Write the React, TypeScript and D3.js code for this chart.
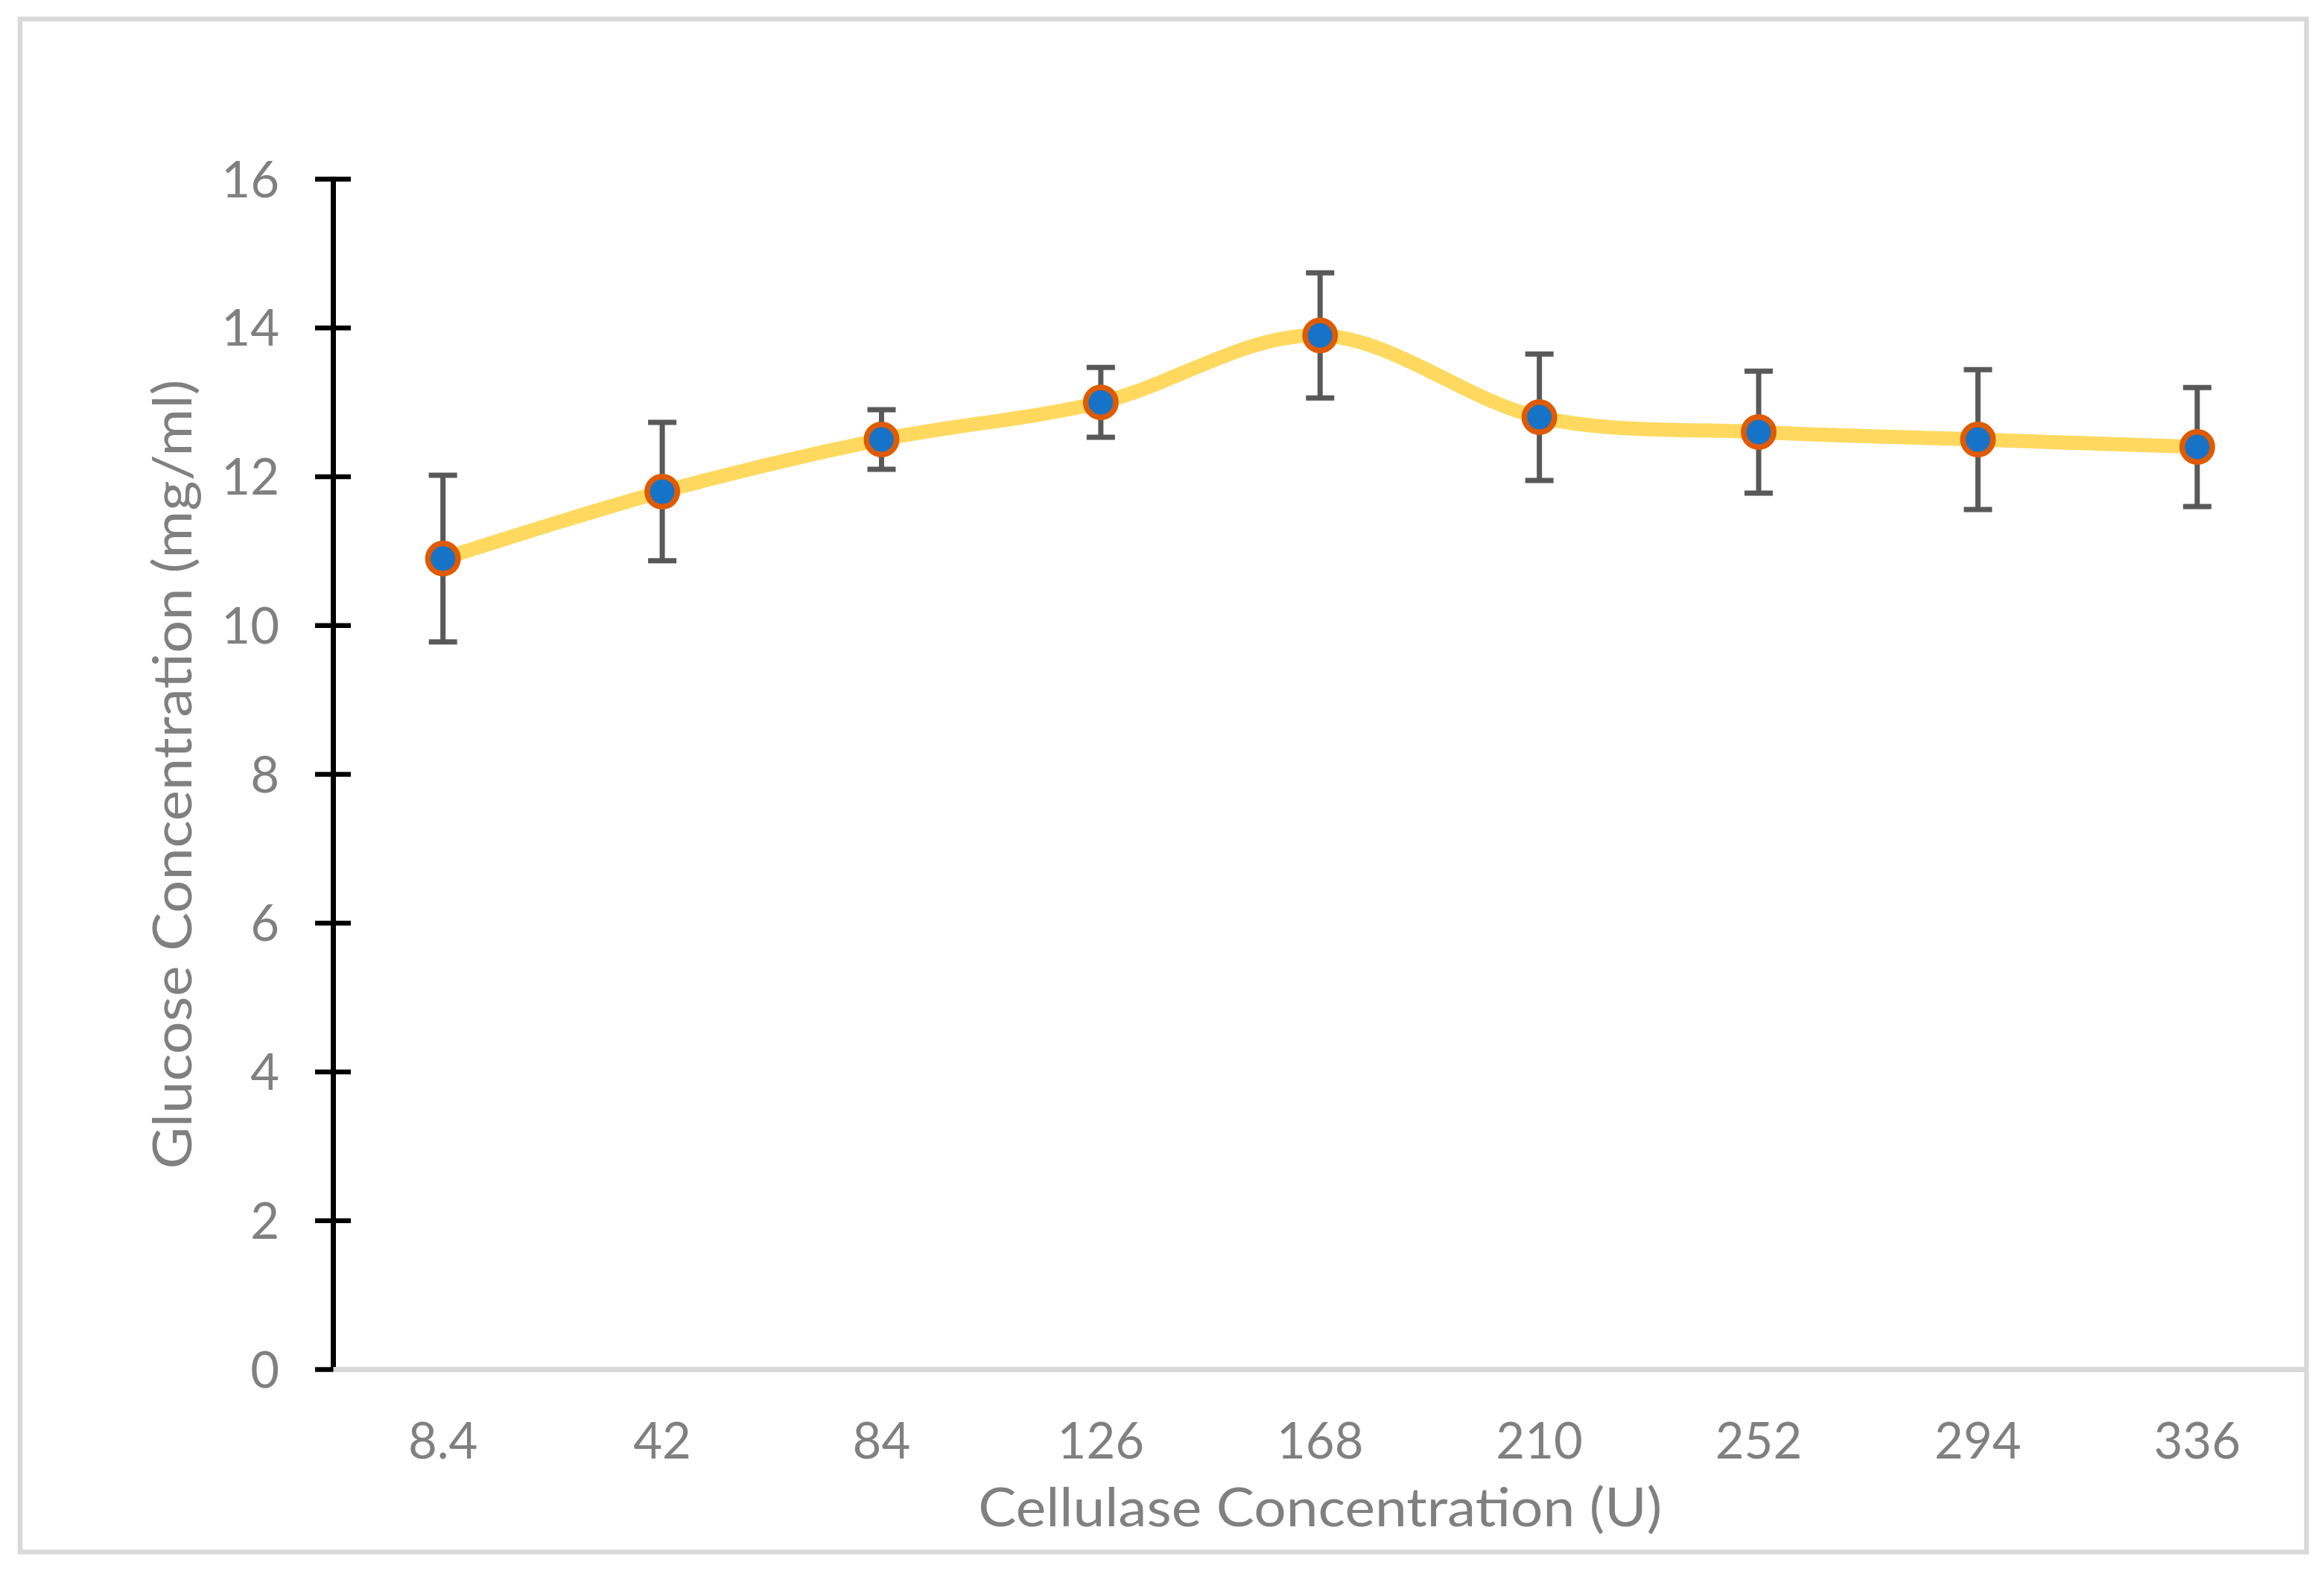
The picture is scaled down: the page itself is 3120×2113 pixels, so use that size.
import React, { useEffect } from "react";
import * as d3 from "d3";

// ---- data ----
const categories: string[] = ["8.4", "42", "84", "126", "168", "210", "252", "294", "336"];
const glucose: number[] = [10.9, 11.8, 12.5, 13.0, 13.9, 12.8, 12.6, 12.5, 12.4];
const errorBars: number[] = [1.12, 0.93, 0.4, 0.47, 0.84, 0.85, 0.82, 0.94, 0.8];
const yTicks: number[] = [0, 2, 4, 6, 8, 10, 12, 14, 16];
const xTitle = "Cellulase Concentration (U)";
const yTitle = "Glucose Concentration (mg/ml)";

const W = 3120;
const H = 2113;
const plot = { left: 447.5, right: 3097, top: 240.5, bottom: 1838.5 };
const FONT = "Lato, 'Open Sans', 'DejaVu Sans', sans-serif";

export default function App() {
  useEffect(() => {
    document.body.style.margin = "0";
  }, []);

  const x = d3.scaleBand<string>().domain(categories).range([plot.left, plot.right]).padding(0);
  const cx = (c: string) => (x(c) as number) + x.bandwidth() / 2;
  const y = d3.scaleLinear().domain([0, 16]).range([plot.bottom, plot.top]);

  const data = categories.map((c, i) => ({ c, v: glucose[i], e: errorBars[i] }));
  const line = d3
    .line<{ c: string; v: number }>()
    .x((d) => cx(d.c))
    .y((d) => y(d.v))
    .curve(d3.curveCatmullRom.alpha(0));

  const capHalf = 19;

  return (
    <svg
      width={W}
      height={H}
      viewBox={`0 0 ${W} ${H}`}
      style={{ position: "absolute", left: 0, top: 0, display: "block", background: "#ffffff" }}
    >
      <rect x={0} y={0} width={W} height={H} fill="#ffffff" />
      {/* chart border */}
      <rect x={27} y={25.5} width={3069.5} height={2058} fill="none" stroke="#d9d9d9" strokeWidth={6.5} />

      {/* y axis */}
      <line x1={plot.left} x2={plot.left} y1={plot.top - 3} y2={plot.bottom} stroke="#000" strokeWidth={7} />
      {yTicks.map((t) => (
        <line key={"yt" + t} x1={423} x2={471} y1={y(t)} y2={y(t)} stroke="#000" strokeWidth={6.5} />
      ))}
      {yTicks.map((t) => (
        <text
          key={"yl" + t}
          x={375}
          y={y(t) + 24}
          textAnchor="end"
          fontFamily={FONT}
          fontSize={67}
          fill="#808080"
        >
          {t}
        </text>
      ))}

      {/* x axis */}
      <line x1={plot.left} x2={plot.right} y1={plot.bottom} y2={plot.bottom} stroke="#d9d9d9" strokeWidth={7} />
      {categories.map((c) => (
        <text key={"xl" + c} x={cx(c)} y={1958} textAnchor="middle" fontFamily={FONT} fontSize={67} fill="#808080">
          {c}
        </text>
      ))}

      {/* smoothed line */}
      <path d={line(data) || ""} fill="none" stroke="#FFD95F" strokeWidth={19} strokeLinejoin="round" />

      {/* error bars */}
      {data.map((d) => (
        <g key={"eb" + d.c} stroke="#595959" strokeWidth={7}>
          <line x1={cx(d.c)} x2={cx(d.c)} y1={y(d.v + d.e)} y2={y(d.v - d.e)} />
          <line x1={cx(d.c) - capHalf} x2={cx(d.c) + capHalf} y1={y(d.v + d.e)} y2={y(d.v + d.e)} />
          <line x1={cx(d.c) - capHalf} x2={cx(d.c) + capHalf} y1={y(d.v - d.e)} y2={y(d.v - d.e)} />
        </g>
      ))}

      {/* markers */}
      {data.map((d) => (
        <circle key={"m" + d.c} cx={cx(d.c)} cy={y(d.v)} r={20.25} fill="#1773C8" stroke="#E05A00" strokeWidth={7.5} />
      ))}

      {/* axis titles */}
      <text
        x={(plot.left + plot.right) / 2}
        y={2049}
        textAnchor="middle"
        fontFamily={FONT}
        fontSize={72}
        fill="#808080"
        textLength={918}
        lengthAdjust="spacingAndGlyphs"
      >
        {xTitle}
      </text>
      <text
        transform={`translate(257, ${(plot.top + plot.bottom) / 2}) rotate(-90)`}
        x={0}
        y={0}
        textAnchor="middle"
        fontFamily={FONT}
        fontSize={72}
        fill="#808080"
        textLength={1060}
        lengthAdjust="spacingAndGlyphs"
      >
        {yTitle}
      </text>
    </svg>
  );
}
